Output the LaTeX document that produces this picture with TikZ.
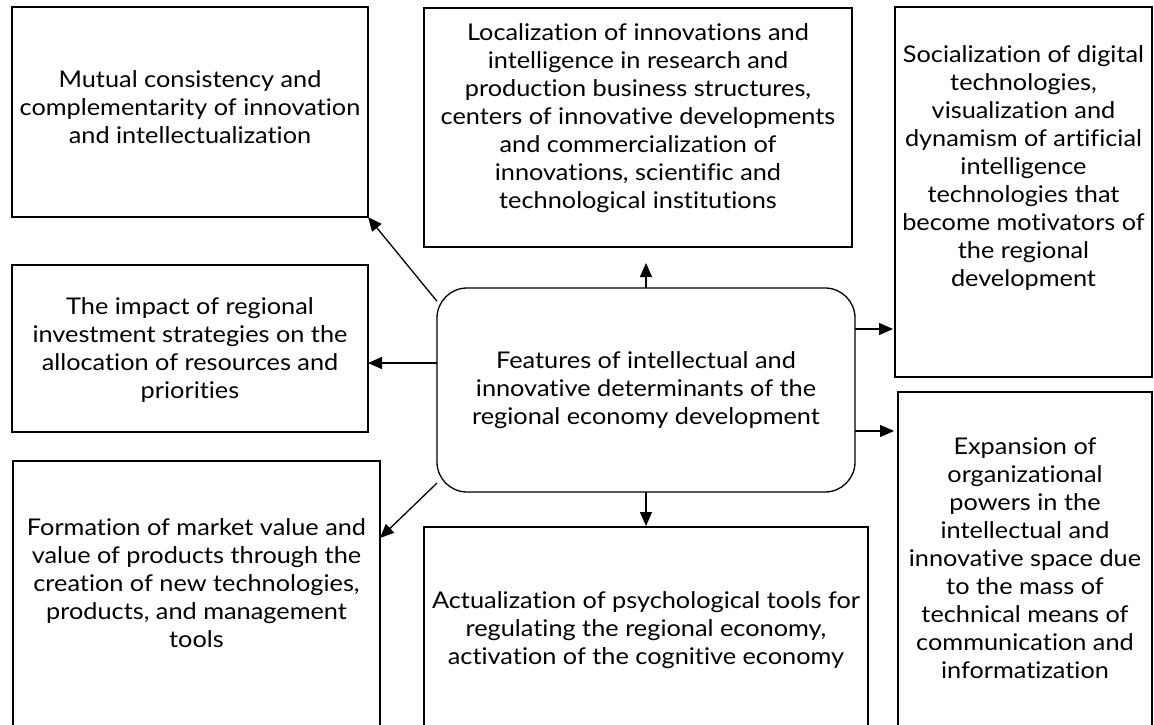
\documentclass[tikz,border=0pt]{standalone}
\usepackage{fontspec}
\setmainfont{Lato}[FakeStretch=1.1, Ligatures=NoCommon]
\usetikzlibrary{arrows.meta,calc}
\tikzset{
  box/.style={draw, line width=1.3pt, rectangle, inner sep=0pt, outer sep=0pt},
  hub/.style={box, rounded corners=30pt},
  txt/.style={align=center, inner sep=0pt, font=\fontsize{23}{28}\selectfont},
  arr/.style={line width=1.3pt, -{Triangle[length=14pt,width=12pt]}}
}

\begin{document}
\begin{tikzpicture}[x=1pt, y=-1pt]
		%%%%% START %%%%%
		\clip (0,0) rectangle (1154,725);
		
		% centre
		\node[hub, minimum width=418pt, minimum height=204pt] (ctr) at (646,390) {};
		\node[txt] (ctrtxt) at (646,390) {Features of intellectual and\\innovative determinants of the\\regional economy development};
		
		% top row
		\node[box, minimum width=356pt, minimum height=210pt] (A) at (190,112) {};
		\node[txt] (Atxt) at (190,107) {Mutual consistency and\\complementarity of innovation\\and intellectualization};
		
		\node[box, minimum width=428pt, minimum height=239pt] (B) at (638,127.5) {};
		\node[txt] (Btxt) at (638,118) {Localization of innovations and\\intelligence in research and\\production business structures,\\centers of innovative developments\\and commercialization of\\innovations, scientific and\\technological institutions};
		
		\node[box, minimum width=257pt, minimum height=370pt] (C) at (1023.5,192) {};
		\node[txt] (Ctxt) at (1023.5,168) {Socialization of digital\\technologies,\\visualization and\\dynamism of artificial\\intelligence\\technologies that\\become motivators of\\the regional\\development};
		
		% left middle
		\node[box, minimum width=356pt, minimum height=167pt] (D) at (190,348.5) {};
		\node[txt] (Dtxt) at (190,350) {The impact of regional\\investment strategies on the\\allocation of resources and\\priorities};
		
		% bottom row
		\node[box, minimum width=367pt, minimum height=299pt] (E) at (196.5,610.5) {};
		\node[txt] (Etxt) at (196.5,583) {Formation of market value and\\value of products through the\\creation of new technologies,\\products, and management\\tools};
		
		\node[box, minimum width=444pt, minimum height=233pt] (F) at (646,643.5) {};
		\node[txt] (Ftxt) at (646,630) {Actualization of psychological tools for\\regulating the regional economy,\\activation of the cognitive economy};
		
		\node[box, minimum width=254pt, minimum height=368pt] (G) at (1025,576) {};
		\node[txt] (Gtxt) at (1025,558) {Expansion of\\organizational\\powers in the\\intellectual and\\innovative space due\\to the mass of\\technical means of\\communication and\\informatization};
		
		% arrows
		\coordinate (dl) at ([yshift=27pt]ctr.west);
		\coordinate (cr1) at ([yshift=61pt]ctr.east);
		\coordinate (cr2) at ([yshift=-41pt]ctr.east);
		
		\draw[arr] (ctr.157) -- (A.south east);
		\draw[arr, shorten >=16pt] (ctr.north) -- (ctr.north |- B.south);
		\draw[arr, shorten >=2pt] (cr1) -- (cr1 -| C.west);
		\draw[arr] (dl) -- (dl -| D.east);
		\draw[arr, shorten >=4pt] (cr2) -- (cr2 -| G.west);
		\draw[arr] (ctr.204) -- ($(E.north east)+(0,77)$);
		\draw[arr, shorten >=1pt] (ctr.south) -- (ctr.south |- F.north);
		
		%%%%% END %%%%%
\end{tikzpicture}
\end{document}
